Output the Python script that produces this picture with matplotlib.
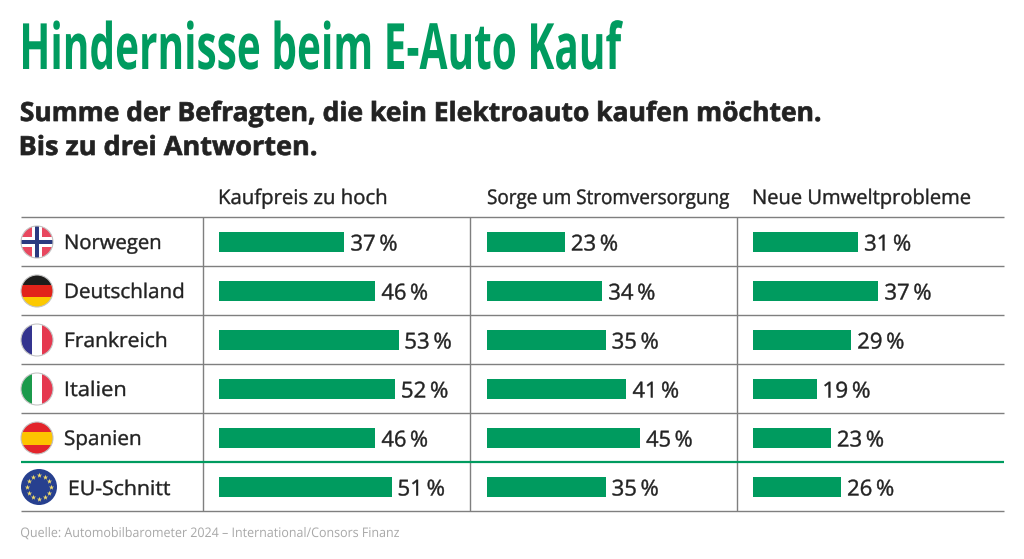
import numpy as np
import matplotlib
matplotlib.use('Agg')
import matplotlib.pyplot as plt
from matplotlib.patches import Circle, Rectangle
from matplotlib.text import Text
from matplotlib.textpath import TextPath
from matplotlib.transforms import Affine2D, Bbox

title = "Hindernisse beim E-Auto Kauf"
subtitle = ["Summe der Befragten, die kein Elektroauto kaufen möchten.", "Bis zu drei Antworten."]
source = "Quelle: Automobilbarometer 2024 – International/Consors Finanz"
countries = ["Norwegen", "Deutschland", "Frankreich", "Italien", "Spanien", "EU-Schnitt"]
columns = ["Kaufpreis zu hoch", "Sorge um Stromversorgung", "Neue Umweltprobleme"]
kaufpreis = [37, 46, 53, 52, 46, 51]
strom = [23, 34, 35, 41, 45, 35]
umwelt = [31, 37, 29, 19, 23, 26]

GREEN = '#009B5F'
DARK = '#222222'
W, H = 1024, 559
DPI = 100


class FittedText(Text):
    """A real text artist whose glyphs are scaled horizontally to a target pixel width."""
    def __init__(self, *a, width_px=None, stroke=0.0, **k):
        super().__init__(*a, **k)
        self.width_px = width_px
        self.stroke = stroke

    def _geom(self):
        fp = self.get_fontproperties()
        tp = TextPath((0, 0), self.get_text(), prop=fp, size=fp.get_size_in_points())
        ext = tp.get_extents()
        k = DPI / 72
        sx = self.width_px / ext.width if self.width_px else k
        px, py = self.get_transform().transform(self.get_unitless_position())
        return tp, ext, sx, k, px - ext.x0 * sx, py

    def draw(self, renderer):
        if not self.get_visible():
            return
        tp, ext, sx, k, px, py = self._geom()
        rgba = matplotlib.colors.to_rgba(self.get_color())
        gc = renderer.new_gc()
        gc.set_linewidth(self.stroke)
        gc.set_foreground(rgba)
        gc.set_alpha(1.0)
        tr = Affine2D().scale(sx, k).translate(px, py)
        renderer.draw_path(gc, tp, tr, rgba)
        gc.restore()

    def get_window_extent(self, renderer=None, dpi=None):
        tp, ext, sx, k, px, py = self._geom()
        return Bbox.from_extents(px + ext.x0 * sx, py + ext.y0 * k, px + ext.x1 * sx, py + ext.y1 * k)


fig = plt.figure(figsize=(W / DPI, H / DPI), dpi=DPI)
bg = fig.add_axes([0, 0, 1, 1])
bg.set_xlim(0, W); bg.set_ylim(H, 0); bg.axis('off')


def put(ax, x, y, s, x1=None, width=None, size=15, weight='normal', color=DARK,
        family='Open Sans', transform=None, stroke=0.0):
    w = width if width is not None else (x1 - x if x1 is not None else None)
    t = FittedText(x, y, s, width_px=w, stroke=stroke, fontsize=size, fontweight=weight, color=color,
                   fontfamily=family, transform=transform if transform is not None else ax.transData)
    ax.add_artist(t)
    t.set_clip_on(False)
    return t


put(bg, 23, 69, title, x1=623, size=46, weight='bold', color=GREEN)
put(bg, 21, 121, subtitle[0], x1=820, size=19, weight='bold', stroke=0.5)
put(bg, 21, 155, subtitle[1], x1=316, size=19, weight='bold', stroke=0.5)
put(bg, 21, 537, source, x1=399, size=9.5, color='#a8a8a8')

rows_y = [217, 266, 315, 364, 413, 462, 511]
for i, y in enumerate(rows_y):
    c, lw = (GREEN, 1.6) if i == 5 else ('#7f7f7f', 1.0)
    bg.plot([21, 1004], [y, y], color=c, lw=lw, solid_capstyle='butt', zorder=2 if i == 5 else 1)
for x in [203, 470, 737]:
    bg.plot([x, x], [217, 511], color='#7f7f7f', lw=1.0, solid_capstyle='butt', zorder=1)

col_x = [219, 487, 753]
col_end = [386, 729, 970]
for x, x1, c in zip(col_x, col_end, columns):
    put(bg, x + 1, 204, c, x1=x1, size=14.5, stroke=0.3)

PX_PER_PCT = 3.39
for x0, vals in zip(col_x, [kaufpreis, strom, umwelt]):
    ax = fig.add_axes([x0 / W, 1 - 511.5 / H, 240 / W, 294 / H])
    ax.set_xlim(0, 240 / PX_PER_PCT); ax.set_ylim(5.5, -0.5); ax.axis('off')
    ax.barh(range(6), vals, height=20 / 49, color=GREEN)
    lab = ax.transData + Affine2D().translate(7, -8.5)
    for i, v in enumerate(vals):
        put(ax, v, i, f"{v}\u2009%", width=45, size=15.8, transform=lab, stroke=0.3)

label_x0 = [66, 66, 66, 66, 65, 70]
label_x1 = [160, 183, 166, 125, 140, 170]
baselines = [249, 298, 347, 396, 445, 495]
for name, x0, x1, y in zip(countries, label_x0, label_x1, baselines):
    put(bg, x0, y, name, x1=x1, size=14.5, stroke=0.3)


def flag(cx, cy, r, parts, edge='#c4c4c4'):
    clip = Circle((cx, cy), r, transform=bg.transData)
    for p in parts:
        bg.add_patch(p)
        p.set_clip_path(clip)
    bg.add_patch(Circle((cx, cy), r, fc='none', ec=edge, lw=0.8))


def R(x, y, w, h, c):
    return Rectangle((x, y), w, h, fc=c, ec='none')


r = 16
cx = 37
cy = 242
flag(cx, cy, r, [R(cx - r, cy - r, 2 * r, 2 * r, '#E8485F'),
                 R(cx - 5, cy - r, 10, 2 * r, 'white'), R(cx - r, cy - 5, 2 * r, 10, 'white'),
                 R(cx - 2.2, cy - r, 4.4, 2 * r, '#2B3A80'), R(cx - r, cy - 2.2, 2 * r, 4.4, '#2B3A80')])
cy = 291
flag(cx, cy, r, [R(cx - r, cy - r, 2 * r, 11, '#1d1d1b'), R(cx - r, cy - 6, 2 * r, 12, '#E2231A'),
                 R(cx - r, cy + 6, 2 * r, 11, '#FCC900')])
cy = 340
flag(cx, cy, r, [R(cx - r, cy - r, 11, 2 * r, '#34348F'), R(cx - 5.3, cy - r, 11, 2 * r, 'white'),
                 R(cx + 5.3, cy - r, 11, 2 * r, '#E5384F')])
cy = 389
flag(cx, cy, r, [R(cx - r, cy - r, 11, 2 * r, '#1B9A4B'), R(cx - 5.3, cy - r, 11, 2 * r, 'white'),
                 R(cx + 5.3, cy - r, 11, 2 * r, '#E5384F')])
cy = 438
flag(cx, cy, r, [R(cx - r, cy - r, 2 * r, 2 * r, '#E3242B'), R(cx - r, cy - 6.5, 2 * r, 13, '#FDC400')])
cx, cy, r = 39, 487, 18
bg.add_patch(Circle((cx, cy), r, fc='#27408F', ec='none'))
ang = np.deg2rad(np.arange(0, 360, 30))
bg.scatter(cx + 12 * np.cos(ang), cy + 12 * np.sin(ang), marker='*', s=16, color='#F2DC6A', linewidths=0, zorder=5)

fig.savefig('out.png', dpi=DPI, facecolor='white')
